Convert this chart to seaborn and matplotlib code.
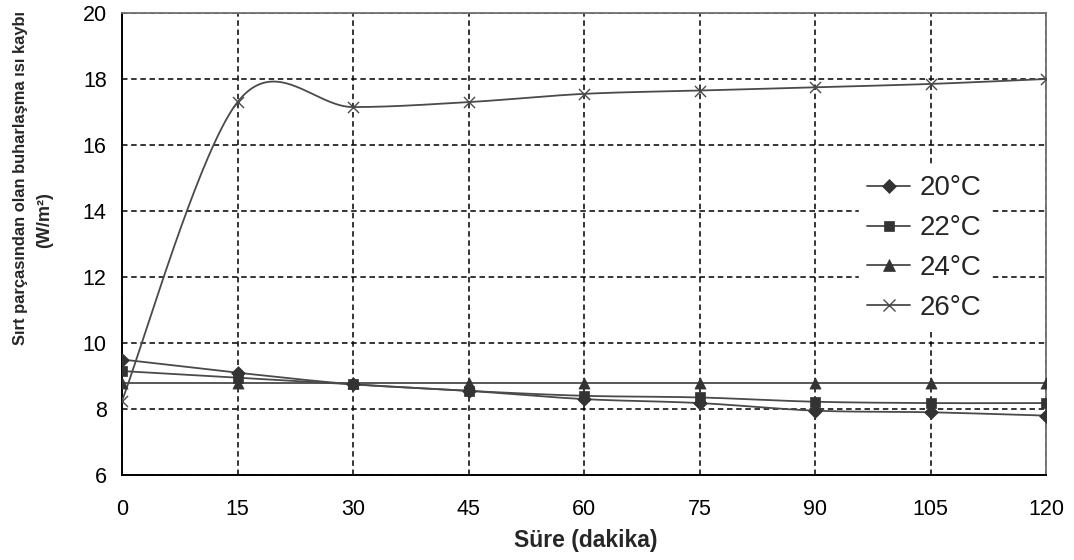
import numpy as np
import pandas as pd
import matplotlib
matplotlib.use("Agg")
import matplotlib.pyplot as plt
from matplotlib.lines import Line2D
import seaborn as sns

# Measurement times (minutes)
sure = [0, 15, 30, 45, 60, 75, 90, 105, 120]

# Evaporative heat loss from the back segment (W/m2) per ambient temperature
kayip_20 = [9.5, 9.1, 8.75, 8.55, 8.3, 8.18, 7.95, 7.9, 7.8]
kayip_22 = [9.15, 8.95, 8.75, 8.55, 8.4, 8.35, 8.22, 8.18, 8.18]
kayip_24 = [8.78, 8.78, 8.78, 8.78, 8.78, 8.78, 8.78, 8.78, 8.78]
kayip_26 = [8.25, 17.3, 17.15, 17.3, 17.55, 17.65, 17.75, 17.85, 18.0]

etiketler = ["20°C", "22°C", "24°C", "26°C"]
seriler = [kayip_20, kayip_22, kayip_24, kayip_26]
isaretler = ["D", "s", "^", "x"]
isaret_boyu = [7.0, 7.0, 8.0, 8.0]

x_ticks = [0, 15, 30, 45, 60, 75, 90, 105, 120]
y_ticks = [6, 8, 10, 12, 14, 16, 18, 20]

CIZGI = "#4a4a4a"
ISARET = "#333333"


def smooth_curve(xs, ys, n=40):
    """Smoothed line through the points using cubic Bezier segments."""
    p = np.column_stack([xs, ys]).astype(float)
    out = []
    m = len(p)
    for i in range(m - 1):
        p0 = p[i - 1] if i > 0 else p[i]
        p1, p2 = p[i], p[i + 1]
        p3 = p[i + 2] if i + 2 < m else p[i + 1]
        c1 = p1 + (p2 - p0) / 6.0
        c2 = p2 - (p3 - p1) / 6.0
        t = np.linspace(0, 1, n)[:, None]
        seg = ((1 - t) ** 3) * p1 + 3 * ((1 - t) ** 2) * t * c1 \
            + 3 * (1 - t) * t ** 2 * c2 + t ** 3 * p2
        out.append(seg if i == 0 else seg[1:])
    return np.vstack(out)


sns.set_style("white")
plt.rcParams["font.family"] = ["Liberation Sans", "DejaVu Sans"]

fig = plt.figure(figsize=(10.74, 5.60), dpi=100)
ax = fig.add_axes([122 / 1074, 1 - 475 / 560, 924 / 1074, 462 / 560])

for etiket, y, mk, ms in zip(etiketler, seriler, isaretler, isaret_boyu):
    curve = smooth_curve(sure, y)
    dense = pd.DataFrame({"sure": curve[:, 0], "kayip": curve[:, 1]})
    sns.lineplot(data=dense, x="sure", y="kayip", ax=ax, color=CIZGI,
                 linewidth=1.3, sort=False, estimator=None, zorder=3)
    pts = pd.DataFrame({"sure": sure, "kayip": y})
    if mk == "x":
        sns.scatterplot(data=pts, x="sure", y="kayip", ax=ax, marker="x",
                        s=ms ** 2, color=CIZGI, linewidth=1.0, zorder=4)
    else:
        sns.scatterplot(data=pts, x="sure", y="kayip", ax=ax, marker=mk,
                        s=ms ** 2, color=ISARET, edgecolor=ISARET,
                        linewidth=0.5, zorder=4)

ax.set_xlim(0, 120)
ax.set_ylim(6, 20)
ax.set_xticks(x_ticks)
ax.set_yticks(y_ticks)
ax.set_xticklabels([str(v) for v in x_ticks])
ax.set_yticklabels([str(v) for v in y_ticks])
ax.tick_params(axis="both", direction="out", length=7, width=1.2,
               color="black", labelsize=15.5, labelcolor="black")
ax.tick_params(axis="x", pad=10)
ax.tick_params(axis="y", pad=4)
ax.set_xlabel("")
ax.set_ylabel("")

ax.grid(True, color="black", linestyle=(0, (3.6, 2.4)), linewidth=1.1)
ax.set_axisbelow(True)
for side in ("left", "bottom"):
    ax.spines[side].set_color("black")
    ax.spines[side].set_linewidth(1.4)
for side in ("top", "right"):
    ax.spines[side].set_color("#707070")
    ax.spines[side].set_linewidth(1.3)
    ax.spines[side].set_visible(True)

handles = [Line2D([0], [0], color=CIZGI, linewidth=1.3, marker=mk,
                  markersize=ms if mk != "x" else 8,
                  markerfacecolor=ISARET, markeredgecolor=ISARET if mk != "x" else CIZGI,
                  markeredgewidth=0.5 if mk != "x" else 1.0)
           for mk, ms in zip(isaretler, isaret_boyu)]
leg = ax.legend(handles, etiketler, loc="upper left",
                bbox_to_anchor=((859 - 122) / 924, (475 - 167) / 462),
                frameon=True, fancybox=False, framealpha=1.0,
                edgecolor="white", facecolor="white", fontsize=20,
                handlelength=1.55, handletextpad=0.35, labelspacing=0.5,
                borderpad=0.3, borderaxespad=0)
leg.set_zorder(5)

fig.text(586 / 1074, 1 - 540 / 560, "Süre (dakika)", ha="center", va="center",
         fontsize=16.5, fontweight="bold")
fig.text(21 / 1074, 1 - 178 / 560, "Sırt parçasından olan buharlaşma ısı kaybı",
         rotation=90, ha="center", va="center", fontsize=11.9, fontweight="bold")
fig.text(45 / 1074, 1 - 220 / 560, "(W/m²)", rotation=90, ha="center",
         va="center", fontsize=13, fontweight="bold")

fig.savefig("out.png", dpi=100, facecolor="white")
